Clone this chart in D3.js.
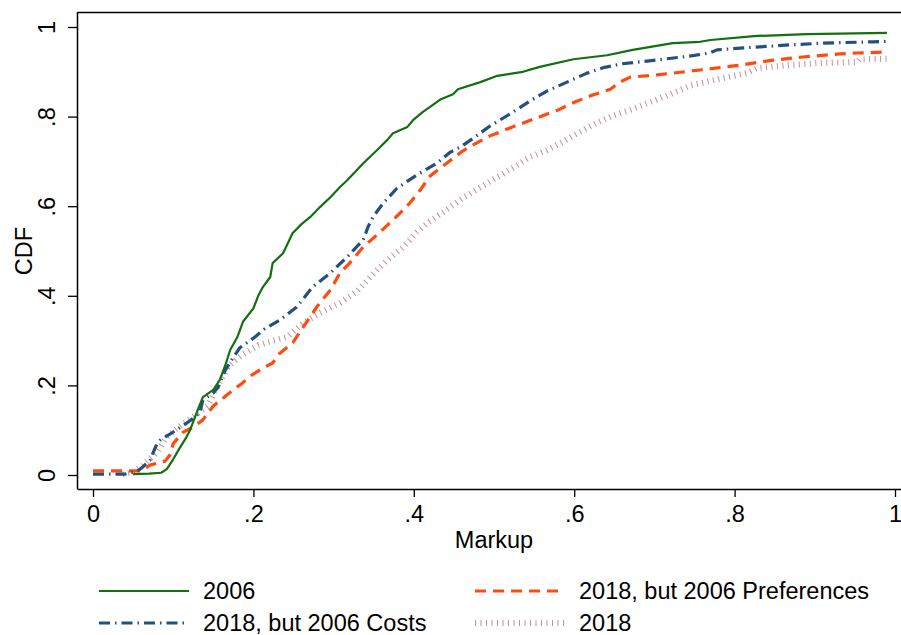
<!DOCTYPE html>
<html>
<head>
<meta charset="utf-8">
<script src="https://cdn.jsdelivr.net/npm/d3@7"></script>
<style>
  body { margin: 0; background: #fff; }
  svg { font-family: "Liberation Sans", Arial, Helvetica, sans-serif; }
</style>
</head>
<body>
<div id="chart"></div>
<script>
// CDF points [markup, cdf]
const cdf2006 = [[0.05,0.002],[0.07,0.003],[0.085,0.005],[0.092,0.013],[0.1,0.035],[0.108,0.06],[0.115,0.08],[0.121,0.10],[0.129,0.138],[0.137,0.174],[0.15,0.19],[0.158,0.212],[0.165,0.245],[0.171,0.279],[0.18,0.308],[0.187,0.342],[0.2,0.372],[0.206,0.40],[0.212,0.42],[0.221,0.442],[0.224,0.473],[0.237,0.495],[0.249,0.54],[0.26,0.56],[0.271,0.576],[0.283,0.598],[0.296,0.62],[0.308,0.643],[0.317,0.658],[0.337,0.696],[0.354,0.725],[0.367,0.748],[0.374,0.763],[0.392,0.777],[0.399,0.792],[0.411,0.81],[0.433,0.838],[0.449,0.85],[0.455,0.861],[0.483,0.877],[0.504,0.891],[0.536,0.9],[0.557,0.911],[0.599,0.928],[0.641,0.937],[0.673,0.949],[0.723,0.964],[0.757,0.967],[0.77,0.971],[0.828,0.98],[0.89,0.984],[0.99,0.987]];
const cdfCosts = [[0,0.002],[0.04,0.002],[0.055,0.008],[0.062,0.018],[0.071,0.033],[0.08,0.071],[0.084,0.078],[0.1,0.096],[0.117,0.116],[0.133,0.138],[0.137,0.167],[0.15,0.183],[0.156,0.196],[0.165,0.234],[0.173,0.257],[0.183,0.284],[0.202,0.308],[0.214,0.326],[0.233,0.346],[0.254,0.375],[0.274,0.42],[0.296,0.451],[0.317,0.487],[0.337,0.525],[0.343,0.554],[0.349,0.576],[0.362,0.607],[0.379,0.64],[0.404,0.67],[0.429,0.696],[0.445,0.72],[0.458,0.732],[0.476,0.754],[0.495,0.779],[0.52,0.806],[0.545,0.835],[0.566,0.857],[0.591,0.877],[0.616,0.897],[0.638,0.91],[0.66,0.918],[0.691,0.924],[0.744,0.935],[0.769,0.942],[0.778,0.949],[0.807,0.953],[0.869,0.96],[0.91,0.964],[0.973,0.967],[0.994,0.968]];
const cdfPrefs = [[0,0.009],[0.06,0.009],[0.071,0.022],[0.09,0.031],[0.096,0.045],[0.1,0.07],[0.112,0.095],[0.125,0.107],[0.137,0.123],[0.15,0.154],[0.168,0.18],[0.186,0.205],[0.198,0.223],[0.214,0.241],[0.224,0.25],[0.233,0.272],[0.249,0.295],[0.262,0.33],[0.279,0.375],[0.296,0.413],[0.308,0.451],[0.32,0.473],[0.337,0.509],[0.354,0.536],[0.374,0.569],[0.395,0.607],[0.408,0.636],[0.42,0.667],[0.441,0.696],[0.46,0.722],[0.474,0.737],[0.495,0.757],[0.526,0.779],[0.555,0.798],[0.58,0.815],[0.6,0.832],[0.623,0.848],[0.645,0.861],[0.657,0.877],[0.67,0.888],[0.703,0.893],[0.757,0.904],[0.807,0.915],[0.848,0.926],[0.885,0.933],[0.931,0.94],[0.953,0.942],[0.988,0.944]];
const cdf2018 = [[0.037,0.002],[0.05,0.006],[0.062,0.022],[0.08,0.051],[0.092,0.085],[0.102,0.1],[0.123,0.128],[0.143,0.154],[0.156,0.2],[0.168,0.241],[0.186,0.268],[0.206,0.29],[0.225,0.3],[0.242,0.308],[0.262,0.339],[0.283,0.362],[0.308,0.384],[0.329,0.41],[0.349,0.448],[0.367,0.48],[0.387,0.509],[0.404,0.542],[0.42,0.566],[0.441,0.592],[0.461,0.618],[0.483,0.642],[0.504,0.665],[0.524,0.686],[0.545,0.71],[0.566,0.725],[0.588,0.746],[0.607,0.766],[0.628,0.786],[0.648,0.802],[0.67,0.815],[0.691,0.83],[0.72,0.85],[0.746,0.87],[0.786,0.886],[0.815,0.897],[0.828,0.908],[0.869,0.915],[0.91,0.92],[0.953,0.922],[0.956,0.928],[0.993,0.929]];

const seriesNames = ["2006", "2018, but 2006 Preferences", "2018, but 2006 Costs", "2018"];
const xTicks = [0, 0.2, 0.4, 0.6, 0.8, 1];
const yTicks = [0, 0.2, 0.4, 0.6, 0.8, 1];

const width = 901, height = 635;
const fontSize = 23.5;
const svg = d3.select("#chart").append("svg")
    .attr("width", width).attr("height", height);

const x = d3.scaleLinear().domain([0, 1]).range([93, 895]);
const y = d3.scaleLinear().domain([0, 1]).range([475, 27]);
const fmt = d => d === 0 ? "0" : d === 1 ? "1" : String(d).replace(/^0/, "");

const styles = {
    "2006": { color: "#12700f", width: 2.2, dash: null, opacity: 1 },
    "2018, but 2006 Preferences": { color: "#ff4a10", width: 3.2, dash: "11,7", opacity: 1 },
    "2018, but 2006 Costs": { color: "#24507e", width: 3.2, dash: "11,5,1.5,5", opacity: 1 },
    "2018": { color: "#9a4652", width: 6, dash: "1,4.5", opacity: 0.6 }
};
const data = {
    "2006": cdf2006,
    "2018, but 2006 Preferences": cdfPrefs,
    "2018, but 2006 Costs": cdfCosts,
    "2018": cdf2018
};

// frame
svg.append("line").attr("x1", 78).attr("x2", width).attr("y1", 12.5).attr("y2", 12.5)
    .attr("stroke", "#000").attr("stroke-width", 1.5);

const line = d3.line().x(d => x(d[0])).y(d => y(d[1]));
["2018", "2018, but 2006 Preferences", "2018, but 2006 Costs", "2006"].forEach(name => {
    const s = styles[name];
    svg.append("path").datum(data[name])
        .attr("d", line)
        .attr("fill", "none")
        .attr("stroke", s.color)
        .attr("stroke-width", s.width)
        .attr("stroke-dasharray", s.dash)
        .attr("stroke-opacity", s.opacity)
        .attr("stroke-linejoin", "round");
});

// axes
const xAxis = svg.append("g").attr("transform", "translate(0,489)")
    .call(d3.axisBottom(x).tickValues(xTicks).tickFormat(fmt).tickSize(8).tickSizeOuter(0).tickPadding(8));
xAxis.select(".domain").attr("d", "M78,0.5H901").attr("stroke-width", 1.5);
xAxis.selectAll(".tick line").attr("stroke-width", 1.3);
xAxis.selectAll("text").attr("font-size", fontSize).attr("fill", "#000")
    .attr("font-family", "Liberation Sans, Arial, sans-serif");

const yAxis = svg.append("g").attr("transform", "translate(78,0)")
    .call(d3.axisLeft(y).tickValues(yTicks).tickFormat(fmt).tickSize(10).tickSizeOuter(0));
yAxis.select(".domain").attr("d", "M-0.5,12H-0.5V489.5").attr("stroke-width", 1.5);
yAxis.selectAll(".tick line").attr("stroke-width", 1.3);
yAxis.selectAll("text")
    .attr("font-size", fontSize).attr("fill", "#000")
    .attr("font-family", "Liberation Sans, Arial, sans-serif")
    .attr("x", null).attr("dy", null)
    .attr("text-anchor", "middle")
    .attr("transform", "translate(-23,0) rotate(-90)");

svg.append("text").attr("x", x(0.5)).attr("y", 548)
    .attr("text-anchor", "middle").attr("font-size", fontSize).text("Markup");
svg.append("text").attr("transform", "translate(32," + y(0.5) + ") rotate(-90)")
    .attr("text-anchor", "middle").attr("font-size", fontSize).text("CDF");

// legend, two columns
const legendPos = [
    { name: "2006", lx: 99, ly: 591 },
    { name: "2018, but 2006 Preferences", lx: 475, ly: 591 },
    { name: "2018, but 2006 Costs", lx: 99, ly: 623 },
    { name: "2018", lx: 475, ly: 623 }
];
const legend = svg.selectAll(".legend").data(legendPos).enter()
    .append("g").attr("class", "legend")
    .attr("transform", d => "translate(" + d.lx + "," + d.ly + ")");
legend.append("line").attr("x1", 0).attr("x2", 90)
    .attr("stroke", d => styles[d.name].color)
    .attr("stroke-width", d => styles[d.name].width)
    .attr("stroke-dasharray", d => styles[d.name].dash)
    .attr("stroke-opacity", d => styles[d.name].opacity);
legend.append("text").attr("x", 104).attr("y", 8)
    .attr("font-size", fontSize).text(d => d.name);
</script>
</body>
</html>
